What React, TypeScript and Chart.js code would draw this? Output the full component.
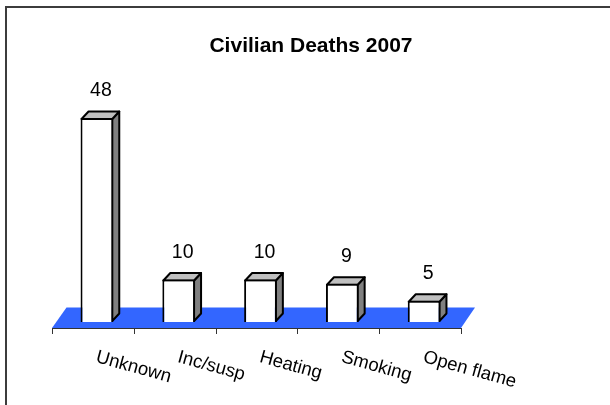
import React, { useEffect, useRef } from "react";
import { Chart, registerables } from "chart.js";

Chart.register(...registerables);

const chartTitle = "Civilian Deaths 2007";
const categories = ["Unknown", "Inc/susp", "Heating", "Smoking", "Open flame"];
const deaths = [48, 10, 10, 9, 5];
const valueAxisMax = 60;

const FONT = '"Liberation Sans", Arial, Helvetica, sans-serif';
const DX = 7;
const DY = -7.5;

const excel3D = {
  id: "excel3D",
  beforeDatasetsDraw(chart: any) {
    const { ctx, chartArea: a } = chart;
    const xs = chart.scales.x;
    ctx.save();

    // outer frame (only top and left visible)
    ctx.strokeStyle = "#3c3c3c";
    ctx.lineWidth = 2;
    ctx.beginPath();
    ctx.moveTo(6, 420);
    ctx.lineTo(6, 7);
    ctx.lineTo(620, 7);
    ctx.stroke();

    // title
    ctx.fillStyle = "#000";
    ctx.font = `bold 21px ${FONT}`;
    ctx.textAlign = "center";
    ctx.textBaseline = "alphabetic";
    ctx.fillText(chartTitle, 311, 51.5);

    // floor
    const fy = a.bottom + 6;
    const by = a.bottom - 14.5;
    ctx.fillStyle = "#3366FF";
    ctx.beginPath();
    ctx.moveTo(a.left - 4, fy);
    ctx.lineTo(a.right - 4, fy);
    ctx.lineTo(a.right + 10, by);
    ctx.lineTo(a.left + 10.5, by);
    ctx.closePath();
    ctx.fill();

    // category axis line + ticks
    ctx.strokeStyle = "#333";
    ctx.lineWidth = 1;
    ctx.beginPath();
    ctx.moveTo(a.left - 4, fy + 0.5);
    ctx.lineTo(a.right - 4, fy + 0.5);
    const n = chart.data.labels.length;
    for (let i = 0; i <= n; i++) {
      let bx;
      if (i === 0) bx = a.left;
      else if (i === n) bx = a.right;
      else bx = (xs.getPixelForValue(i - 1) + xs.getPixelForValue(i)) / 2;
      const px = Math.round(bx - 4) + 0.5;
      ctx.moveTo(px, fy);
      ctx.lineTo(px, fy + 6);
    }
    ctx.stroke();

    // category labels (rotated)
    ctx.fillStyle = "#000";
    ctx.font = `18.5px ${FONT}`;
    ctx.textAlign = "left";
    ctx.textBaseline = "top";
    chart.data.labels.forEach((lab: string, i: number) => {
      const cx = xs.getPixelForValue(i);
      ctx.save();
      ctx.translate(cx + 2, fy + 20);
      ctx.rotate((15.5 * Math.PI) / 180);
      ctx.fillText(lab, 0, 0);
      ctx.restore();
    });

    // 3D top & side faces of bars
    const meta = chart.getDatasetMeta(0);
    ctx.strokeStyle = "#000";
    ctx.lineWidth = 2;
    ctx.lineJoin = "round";
    meta.data.forEach((bar: any) => {
      const { x, y, base, width } = bar.getProps(["x", "y", "base", "width"], true);
      const l = x - width / 2 + 1;
      const r = x + width / 2 - 1;
      const t = y + 1;
      const b = base - 1;
      // side
      ctx.fillStyle = "#808080";
      ctx.beginPath();
      ctx.moveTo(r, t);
      ctx.lineTo(r + DX, t + DY);
      ctx.lineTo(r + DX, b + DY);
      ctx.lineTo(r, b);
      ctx.closePath();
      ctx.fill();
      ctx.stroke();
      // top
      ctx.fillStyle = "#c0c0c0";
      ctx.beginPath();
      ctx.moveTo(l, t);
      ctx.lineTo(l + DX, t + DY);
      ctx.lineTo(r + DX, t + DY);
      ctx.lineTo(r, t);
      ctx.closePath();
      ctx.fill();
      ctx.stroke();
    });
    ctx.restore();
  },
  afterDatasetsDraw(chart: any) {
    const { ctx } = chart;
    const meta = chart.getDatasetMeta(0);
    const values = chart.data.datasets[0].data;
    ctx.save();
    ctx.fillStyle = "#000";
    ctx.font = `19.5px ${FONT}`;
    ctx.textAlign = "center";
    ctx.textBaseline = "alphabetic";
    meta.data.forEach((bar: any, i: number) => {
      const { x, y } = bar.getProps(["x", "y"], true);
      ctx.fillText(String(values[i]), x + 4, y - 22);
    });
    ctx.restore();
  },
};

export default function App() {
  const ref = useRef<HTMLCanvasElement | null>(null);
  useEffect(() => {
    if (!ref.current) return;
    const chart = new Chart(ref.current, {
      type: "bar",
      data: {
        labels: categories,
        datasets: [
          {
            data: deaths,
            backgroundColor: "#ffffff",
            borderColor: "#000000",
            borderWidth: 2,
            barPercentage: 0.4,
            categoryPercentage: 1,
          },
        ],
      },
      options: {
        responsive: false,
        animation: false,
        events: [],
        layout: { padding: { left: 56, right: 145, top: 67, bottom: 83 } },
        scales: {
          x: { display: false, offset: true },
          y: { display: false, min: 0, max: valueAxisMax },
        },
        plugins: {
          legend: { display: false },
          title: { display: false },
          tooltip: { enabled: false },
        },
      },
      plugins: [excel3D],
    });
    return () => chart.destroy();
  }, []);
  return (
    <div style={{ position: "fixed", left: 0, top: 0, width: 610, height: 405, background: "#fff" }}>
      <canvas ref={ref} width={610} height={405} style={{ display: "block" }} />
    </div>
  );
}
